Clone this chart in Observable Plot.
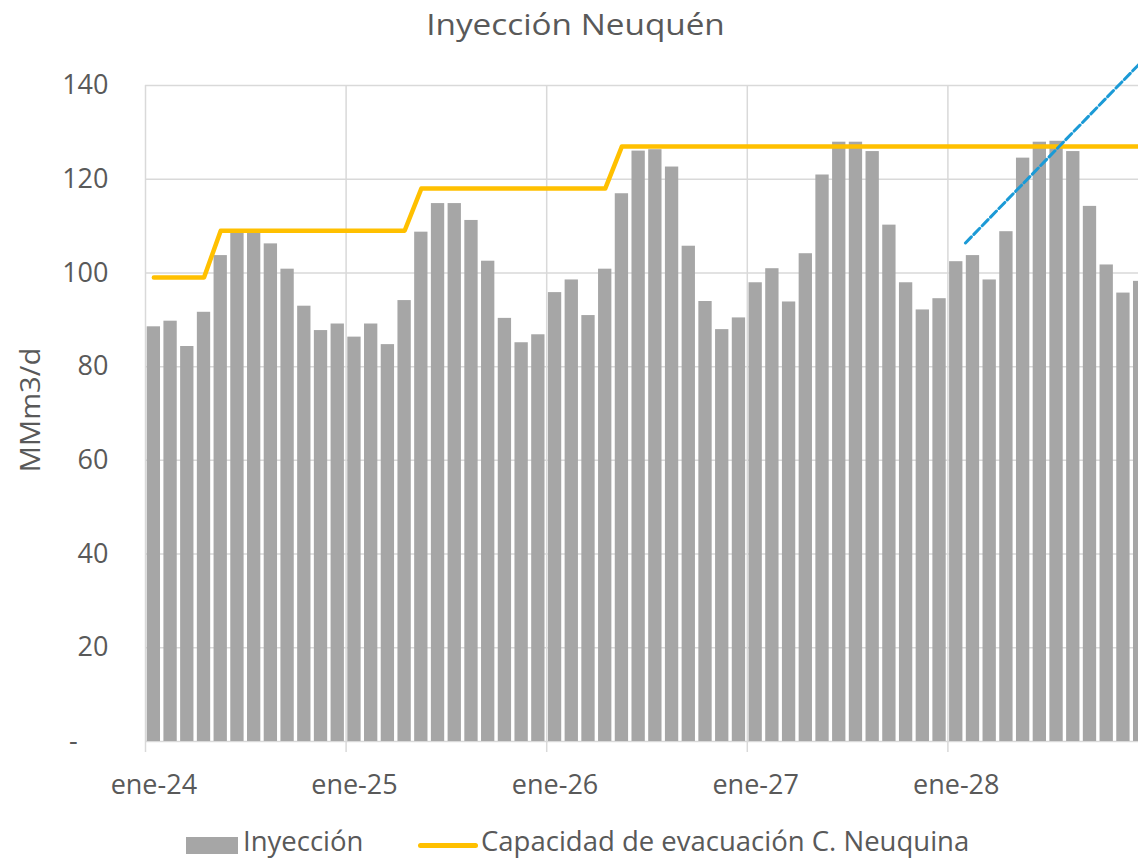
<!DOCTYPE html>
<html><head><meta charset="utf-8">
<script src="https://cdn.jsdelivr.net/npm/d3@7"></script>
<script src="https://cdn.jsdelivr.net/npm/@observablehq/plot@0.6"></script>
<style>
html,body{margin:0;padding:0;background:#fff;overflow:hidden}
#wrap{position:relative;width:1138px;height:859px;overflow:hidden;font-family:"Open Sans",sans-serif;color:#595959}
#chart{position:absolute;left:0;top:0;width:1160px}
.t{position:absolute;white-space:nowrap;line-height:1}
#title{left:0;width:1151px;text-align:center;top:9px;font-size:30px;transform:scaleX(1.11);transform-origin:575.5px 50%}
#ylab{left:29px;top:410px;font-size:28px;transform:translate(-50%,-50%) rotate(-90deg) scaleX(1.04)}
.sw{position:absolute}
.lg{font-size:27.5px;top:827px}
</style></head>
<body>
<div id="wrap">
  <div id="chart"></div>
  <div class="t" id="title">Inyección Neuquén</div>
  <div class="t" id="ylab">MMm3/d</div>
  <div class="sw" style="left:186px;top:837px;width:52px;height:17px;background:#A6A6A6"></div>
  <div class="t lg" style="left:243px">Inyección</div>
  <div class="sw" style="left:418px;top:843px;width:60px;height:4.5px;border-radius:3px;background:#FFC000"></div>
  <div class="t lg" style="left:481px">Capacidad de evacuación C. Neuquina</div>
</div>
<script>
// Monthly injection, ene-24 .. dic-28 (MMm3/d)
const inyeccion = [
  88.5, 89.7, 84.3, 91.6, 103.7, 108.8, 108.8, 106.2, 100.8, 92.9, 87.7, 89.1,
  86.3, 89.1, 84.7, 94.1, 108.7, 114.8, 114.8, 111.2, 102.5, 90.3, 85.1, 86.8,
  95.8, 98.5, 90.9, 100.8, 116.9, 126.0, 126.3, 122.6, 105.7, 93.9, 87.9, 90.4,
  97.9, 100.9, 93.8, 104.1, 120.9, 127.9, 127.9, 125.9, 110.2, 97.9, 92.1, 94.5,
  102.4, 103.7, 98.5, 108.8, 124.5, 127.9, 128.1, 125.9, 114.2, 101.7, 95.7, 98.2
];
// Evacuation capacity of the Neuquina basin
const capacidad = [
  99, 99, 99, 99, 109, 109, 109, 109, 109, 109, 109, 109,
  109, 109, 109, 109, 118, 118, 118, 118, 118, 118, 118, 118,
  118, 118, 118, 118, 127, 127, 127, 127, 127, 127, 127, 127,
  127, 127, 127, 127, 127, 127, 127, 127, 127, 127, 127, 127,
  127, 127, 127, 127, 127, 127, 127, 127, 127, 127, 127, 127
];
// Dashed trend segment (month index, value)
const trendMes = [49.05, 60];
const trendValor = [106.4, 146.6];

const xTickLabels = ["ene-24", "ene-25", "ene-26", "ene-27", "ene-28"];
const yearStarts = [0, 12, 24, 36, 48, 60];
const yTicks = [0, 20, 40, 60, 80, 100, 120, 140];

const data = inyeccion.map((v, i) => ({i, v, cap: capacidad[i]}));
const trend = trendMes.map((m, k) => ({m, v: trendValor[k]}));
const labelPos = xTickLabels.map((_, k) => k * 12 + 0.5);

const chart = Plot.plot({
  width: 1160,
  height: 800,
  marginLeft: 145,
  marginRight: 12,
  marginTop: 85,
  marginBottom: 59,
  style: {fontFamily: "'Open Sans', sans-serif", fontSize: "27px", color: "#595959", background: "transparent", overflow: "visible", maxWidth: "none"},
  x: {type: "linear", domain: [0, 60]},
  y: {domain: [0, 140]},
  marks: [
    Plot.gridY(yTicks, {stroke: "#D9D9D9", strokeOpacity: 1, strokeWidth: 1.5}),
    Plot.gridX(yearStarts, {stroke: "#D9D9D9", strokeOpacity: 1, strokeWidth: 1.5}),
    Plot.axisX(yearStarts, {tickSize: 11, tickFormat: () => "", stroke: "#D9D9D9", strokeWidth: 1.5, label: null}),
    Plot.rectY(data, {x1: d => d.i, x2: d => d.i + 1, y: "v", insetLeft: 1.7, insetRight: 1.7, fill: "#A6A6A6"}),
    Plot.line(data, {x: d => d.i + 0.5, y: "cap", stroke: "#FFC000", strokeWidth: 4.5, strokeLinecap: "round", strokeLinejoin: "round"}),
    Plot.line(trend, {x: "m", y: "v", stroke: "#1B9AD6", strokeWidth: 3, strokeDasharray: "8.5,3.5"}),
    Plot.axisX(labelPos, {tickSize: 0, tickPadding: 33, tickFormat: (d, k) => xTickLabels[k], label: null, fill: "#595959"}),
    Plot.axisY(yTicks, {tickSize: 0, tickPadding: 37, tickFormat: d => d === 0 ? "-\u2007\u2007" : String(d), label: null, fill: "#595959"})
  ]
});
document.getElementById("chart").appendChild(chart);
</script>
</body></html>
